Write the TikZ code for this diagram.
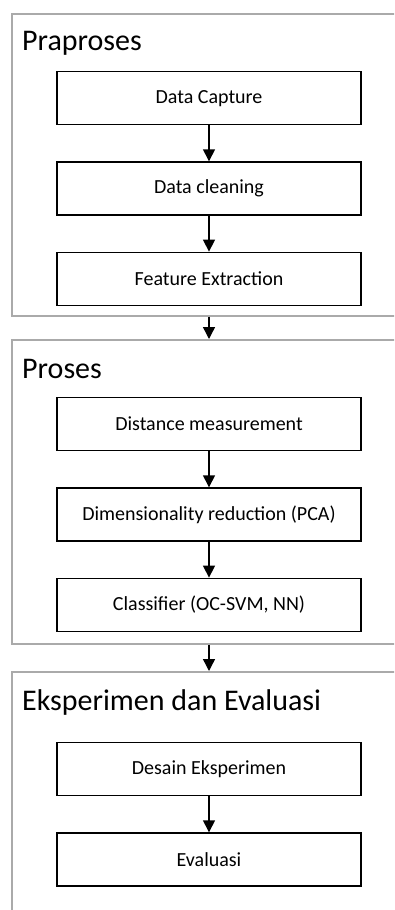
\documentclass[tikz,border=0pt]{standalone}
\usepackage{fontspec}
\setmainfont{Carlito}
\usepackage{tikz}
\usetikzlibrary{positioning,arrows.meta}
\definecolor{framegray}{RGB}{170,170,170}

\begin{document}
\begin{tikzpicture}[x=1pt, y=-1pt,
      every node/.style={font=\fontsize{20}{24}\selectfont},
      section/.style={draw=framegray, line width=1.6pt, anchor=north west, minimum width=420pt, inner sep=0pt},
      title/.style={anchor=base west, inner sep=0pt, font=\fontsize{30}{36}\selectfont},
      stepbox/.style={draw, line width=1.3pt, minimum width=304pt, minimum height=53pt, inner sep=0pt},
      flow/.style={-{Triangle[width=12pt,length=12pt]}, line width=1.4pt},
      node distance=36pt
    ]
      \useasboundingbox (0,0) rectangle (394,910);
      \clip (0,0) rectangle (394,910);

      % sections
      \node[section, minimum height=302pt] (pra) at (11,13) {};
      \node[section, minimum height=304pt] (pro) at (11,339) {};
      \node[section, minimum height=280pt] (eks) at (11,671) {};

      \node[title] (tpra) at (22,50) {Praproses};
      \node[title] (tpro) at (22,378) {Proses};
      \node[title] (teks) at (22,710) {Eksperimen dan Evaluasi};

      % Praproses
      \node[stepbox, anchor=north] (capture) at (209,71) {Data Capture};
      \node[stepbox, below=of capture] (clean) {Data cleaning};
      \node[stepbox, below=of clean] (feat) {Feature Extraction};

      % Proses
      \node[stepbox, anchor=north] (dist) at (209,397) {Distance measurement};
      \node[stepbox, below=of dist] (pca) {Dimensionality reduction (PCA)};
      \node[stepbox, below=of pca] (clf) {Classifier (OC-SVM, NN)};

      % Eksperimen dan Evaluasi
      \node[stepbox, anchor=north] (desain) at (209,742) {Desain Eksperimen};
      \node[stepbox, below=of desain] (eval) {Evaluasi};

      \draw[flow] (capture) -- (clean);
      \draw[flow] (clean) -- (feat);
      \draw[flow] (dist) -- (pca);
      \draw[flow] (pca) -- (clf);
      \draw[flow] (desain) -- (eval);
      \draw[flow] (pra.south -| feat) -- (pro.north -| dist);
      \draw[flow] (pro.south -| clf) -- (eks.north -| desain);
    \end{tikzpicture}
\end{document}
